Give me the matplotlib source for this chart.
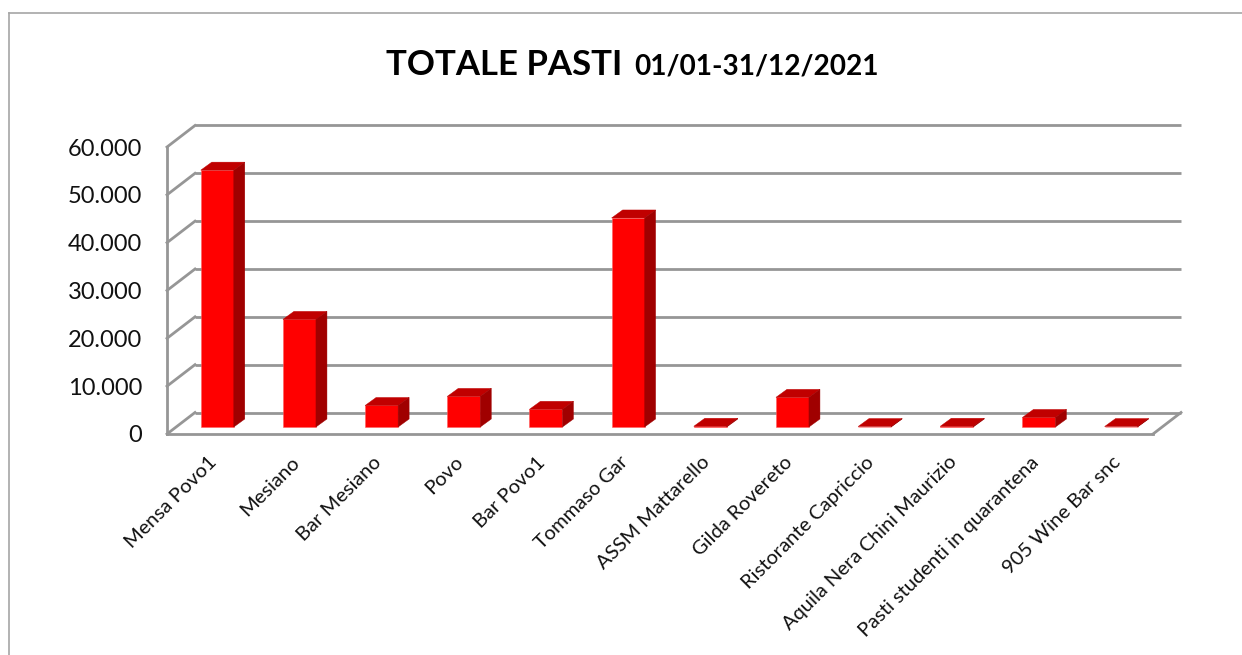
import matplotlib
matplotlib.use('Agg')
import matplotlib.pyplot as plt
from matplotlib.patches import Polygon

plt.rcParams['font.family'] = ['Lato', 'DejaVu Sans']

categories = ['Mensa Povo1', 'Mesiano', 'Bar Mesiano', 'Povo', 'Bar Povo1', 'Tommaso Gar',
              'ASSM Mattarello', 'Gilda Rovereto', 'Ristorante Capriccio',
              'Aquila Nera Chini Maurizio', 'Pasti studenti in quarantena', '905 Wine Bar snc']
pasti = [53700, 22500, 4500, 6400, 3700, 43700, 150, 6200, 100, 150, 2000, 100]
ticks = [0, 10000, 20000, 30000, 40000, 50000, 60000]
tick_labels = ['0', '10.000', '20.000', '30.000', '40.000', '50.000', '60.000']

W, H = 1242, 655
GRID = '#969696'

fig = plt.figure(figsize=(W / 100, H / 100), dpi=100)
ax = fig.add_axes([167 / W, 1 - 434 / H, 986 / W, 287 / H])
ax.set_xlim(-0.5, 11.5)
ax.set_ylim(0, 60000)
ax.patch.set_alpha(0)

# one pixel in data units, the fake 3D depth is worked out from these
px = 12 / 986
py = 60000 / 287
wall_x, wall_y = 28 * px, 21.5 * py
bar_w = 33 * px
shift_x, base_y = 9.2 * px, 7 * py
depth_x, depth_y = 11 * px, 8 * py

# back wall and left side
for t in ticks:
    ax.plot([-0.5 + wall_x, 11.5 + wall_x], [t + wall_y, t + wall_y], color=GRID, lw=2,
            clip_on=False, zorder=1, solid_capstyle='butt')
    ax.plot([-0.5, -0.5 + wall_x], [t, t + wall_y], color=GRID, lw=2, clip_on=False, zorder=1)
ax.plot([11.5, 11.5 + wall_x], [0, wall_y], color=GRID, lw=2, clip_on=False, zorder=1)

for s in ['top', 'right']:
    ax.spines[s].set_visible(False)
for s in ['left', 'bottom']:
    ax.spines[s].set_color(GRID)
    ax.spines[s].set_linewidth(2)

# bars: front face, then top and side
xs = [i + shift_x for i in range(len(pasti))]
ax.bar(xs, pasti, bar_w, bottom=base_y, color='#ff0000', edgecolor='#ff6060', linewidth=0.4,
       clip_on=False, zorder=3)
for x, v in zip(xs, pasti):
    l, r = x - bar_w / 2, x + bar_w / 2
    b, t = base_y, base_y + v
    ax.add_patch(Polygon([(l, t), (r, t), (r + depth_x, t + depth_y), (l + depth_x, t + depth_y)],
                         facecolor='#c00000', edgecolor='#c00000', lw=0.3, clip_on=False, zorder=3))
    ax.add_patch(Polygon([(r, b), (r + depth_x, b + depth_y), (r + depth_x, t + depth_y), (r, t)],
                         facecolor='#a00000', edgecolor='#a00000', lw=0.3, clip_on=False, zorder=3))

ax.set_yticks(ticks)
ax.set_yticklabels(tick_labels, fontsize=17, color='#111111')
ax.tick_params(axis='y', length=0, pad=18)
ax.set_xticks(range(len(categories)))
ax.set_xticklabels(categories, rotation=45, ha='right', va='top', rotation_mode='anchor',
                   fontsize=14.5, color='#111111')
ax.tick_params(axis='x', length=0, pad=14)

# frame round the picture, only top and left are visible
fig.add_artist(plt.Line2D([9 / W, 9 / W], [0, 1 - 13 / H], color='#a6a6a6', lw=1.2))
fig.add_artist(plt.Line2D([9 / W, 1], [1 - 13 / H, 1 - 13 / H], color='#a6a6a6', lw=1.2))

fig.text(386 / W, 1 - 75 / H, 'TOTALE PASTI', fontsize=25, fontweight='bold', color='black')
fig.text(634 / W, 1 - 75 / H, '01/01-31/12/2021', fontsize=20.2, fontweight='bold', color='black')

fig.savefig('out.png', dpi=100)
